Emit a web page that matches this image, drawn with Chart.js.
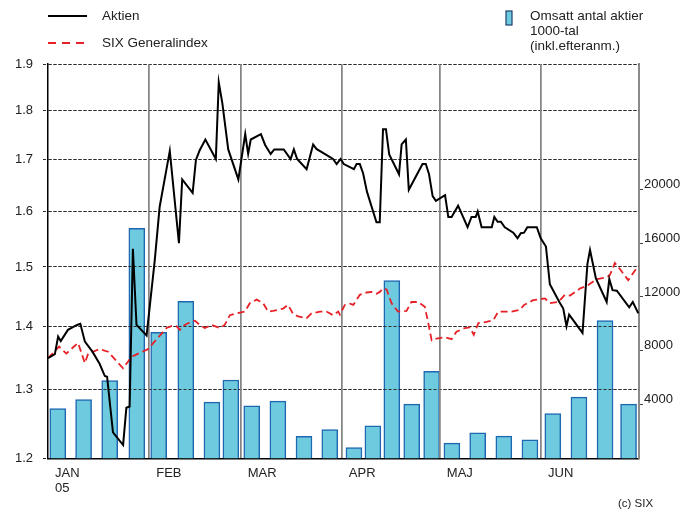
<!DOCTYPE html>
<html>
<head>
<meta charset="utf-8">
<script src="https://cdn.jsdelivr.net/npm/chart.js@4"></script>
<style>
    html, body { margin: 0; padding: 0; background: #fff; }
    #wrap { width: 695px; height: 514px; }
</style>
</head>
<body>
<div id="wrap"><canvas id="chart" width="695" height="514"></canvas></div>
<script>
// x values are days since 1 Jan 2005
const monthStarts = [0, 31, 59, 90, 120, 151, 181];
const monthLabels = [["JAN", "05"], "FEB", "MAR", "APR", "MAJ", "JUN", ""];
const leftTicks = [1.2, 1.3, 1.4, 1.5, 1.6, 1.7, 1.8, 1.9];
const rightTicks = [4000, 8000, 12000, 16000, 20000];

const aktienDays = [
    0, 2.1, 3.1, 3.9, 6.1, 8.9, 9.9, 11.3, 13.6, 15.8,
    17.4, 18.1, 19.9, 23.0, 24.0, 25.0, 26.0, 27.1, 30.2, 32.7,
    34.2, 37.3, 40.1, 41.1, 44.3, 45.3, 46.5, 48.2, 51.4, 52.3,
    53.4, 55.2, 58.3, 60.4, 61.3, 62.1, 65.2, 66.5, 68.2, 69.3,
    72.2, 74.3, 75.3, 76.3, 79.2, 81.2, 82.2, 87.3, 88.4, 89.6,
    90.6, 93.7, 94.5, 95.5, 96.5, 97.7, 100.6, 101.6, 102.6, 103.5,
    104.5, 107.5, 108.3, 109.6, 110.5, 114.7, 115.7, 116.7, 117.8, 118.8,
    121.6, 122.6, 123.6, 125.6, 128.5, 129.7, 131.0, 131.6, 132.8, 135.9,
    136.7, 137.7, 138.7, 139.9, 142.5, 143.8, 144.8, 145.8, 146.8, 149.7,
    150.9, 152.5, 153.7, 156.6, 157.8, 158.8, 159.6, 163.7, 165.2, 166.0,
    167.8, 171.1, 171.9, 172.9, 174.2, 178.0, 179.1, 180.8,
];
const aktienValues = [
    1.349, 1.355, 1.383, 1.376, 1.394, 1.402, 1.404, 1.375, 1.359, 1.340,
    1.321, 1.320, 1.237, 1.219, 1.273, 1.275, 1.532, 1.402, 1.385, 1.512,
    1.609, 1.717, 1.542, 1.661, 1.635, 1.699, 1.719, 1.740, 1.701, 1.860,
    1.815, 1.720, 1.661, 1.751, 1.711, 1.740, 1.751, 1.729, 1.711, 1.720,
    1.720, 1.701, 1.720, 1.701, 1.681, 1.730, 1.721, 1.701, 1.691, 1.701,
    1.691, 1.681, 1.691, 1.691, 1.673, 1.637, 1.580, 1.580, 1.761, 1.761,
    1.710, 1.671, 1.730, 1.740, 1.641, 1.691, 1.691, 1.671, 1.629, 1.620,
    1.631, 1.590, 1.590, 1.611, 1.571, 1.590, 1.590, 1.600, 1.571, 1.571,
    1.590, 1.581, 1.581, 1.571, 1.561, 1.551, 1.560, 1.561, 1.571, 1.571,
    1.551, 1.536, 1.470, 1.440, 1.429, 1.400, 1.419, 1.389, 1.505, 1.530,
    1.480, 1.440, 1.479, 1.460, 1.459, 1.431, 1.440, 1.421,
];

const sixDays = [
    0, 3.4, 5.6, 9.2, 11.3, 12.3, 15.8, 18.4, 23.0, 25.6,
    30.6, 34.8, 36.3, 37.8, 39.3, 40.4, 41.2, 43.4, 45.0, 46.5,
    48.0, 50.1, 52.6, 54.1, 55.7, 57.7, 60.3, 61.8, 63.9, 65.9,
    67.4, 68.9, 72.0, 73.5, 75.1, 76.6, 79.2, 80.7, 83.3, 85.3,
    87.3, 88.9, 89.4, 90.9, 92.5, 93.5, 95.5, 97.6, 99.1, 100.6,
    101.6, 102.6, 103.7, 105.2, 107.2, 109.8, 111.3, 113.4, 115.4, 116.4,
    117.5, 119.0, 121.6, 123.6, 125.1, 127.7, 129.2, 130.4, 131.8, 134.3,
    136.4, 137.9, 142.0, 144.5, 145.8, 148.6, 152.2, 153.7, 156.3, 158.3,
    159.9, 163.0, 165.0, 168.1, 171.1, 172.1, 173.6, 175.2, 177.7, 180.8,
];
const sixValues = [
    1.349, 1.367, 1.356, 1.373, 1.341, 1.356, 1.363, 1.359, 1.333, 1.351,
    1.363, 1.388, 1.397, 1.400, 1.400, 1.394, 1.400, 1.406, 1.409, 1.402,
    1.397, 1.402, 1.397, 1.402, 1.418, 1.421, 1.424, 1.438, 1.444, 1.438,
    1.424, 1.425, 1.429, 1.435, 1.420, 1.416, 1.413, 1.421, 1.424, 1.424,
    1.418, 1.424, 1.419, 1.435, 1.437, 1.435, 1.452, 1.456, 1.457, 1.454,
    1.457, 1.463, 1.461, 1.438, 1.424, 1.425, 1.440, 1.440, 1.432, 1.407,
    1.377, 1.380, 1.382, 1.379, 1.391, 1.397, 1.398, 1.386, 1.405, 1.407,
    1.410, 1.424, 1.424, 1.427, 1.435, 1.443, 1.446, 1.438, 1.440, 1.452,
    1.451, 1.463, 1.467, 1.479, 1.482, 1.486, 1.507, 1.496, 1.477, 1.502,
];

const volumeDays = [
    3.0, 10.9, 18.9, 27.2, 33.9, 42.2, 50.2, 56.0, 62.4, 70.4,
    78.4, 86.3, 93.7, 99.5, 105.3, 111.4, 117.5, 123.7, 131.6, 139.6,
    147.6, 154.6, 162.6, 170.6, 177.8,
];
const volumeValues = [
    3700, 4370, 5780, 17090, 9380, 11680, 4190, 5830, 3920, 4260,
    1640, 2140, 820, 2430, 13220, 4040, 6480, 1140, 1910, 1660,
    1390, 3330, 4560, 10250, 4040,
];

const FONT = "'Liberation Sans', Arial, sans-serif";
const TEXT = "#222";
const RED = "#e62128";
const BAR_FILL = "#6dcadf";
const BAR_EDGE = "#1f67b1";

const toPoints = (xs, ys) => xs.map((x, i) => ({ x, y: ys[i] }));

// grid lines lie on top of the bars in the original, so redraw them after the bars
const gridOverBars = {
    id: "gridOverBars",
    afterDatasetDraw(chart, args) {
        if (args.index !== 2) return;
        chart.scales.y.drawGrid(chart.chartArea);
        chart.scales.x.drawGrid(chart.chartArea);
    },
};

const legendAndCredit = {
    id: "legendAndCredit",
    afterDraw(chart) {
        const ctx = chart.ctx;
        ctx.save();
        ctx.lineWidth = 2;
        ctx.strokeStyle = "#000";
        ctx.beginPath();
        ctx.moveTo(48, 16);
        ctx.lineTo(87, 16);
        ctx.stroke();
        ctx.strokeStyle = RED;
        ctx.setLineDash([8, 6]);
        ctx.beginPath();
        ctx.moveTo(48, 43);
        ctx.lineTo(87, 43);
        ctx.stroke();
        ctx.setLineDash([]);

        ctx.fillStyle = BAR_FILL;
        ctx.fillRect(506, 11, 6, 14);
        ctx.lineWidth = 1.2;
        ctx.strokeStyle = "#1b3f6e";
        ctx.strokeRect(506, 11, 6, 14);

        ctx.fillStyle = TEXT;
        ctx.font = "13.5px " + FONT;
        ctx.textBaseline = "middle";
        ctx.textAlign = "left";
        ctx.fillText("Aktien", 102, 16);
        ctx.fillText("SIX Generalindex", 102, 43);
        ctx.fillText("Omsatt antal aktier", 530, 16);
        ctx.fillText("1000-tal", 530, 31);
        ctx.fillText("(inkl.efteranm.)", 530, 46);
        ctx.font = "11.5px " + FONT;
        ctx.fillText("(c) SIX", 618, 504);
        ctx.restore();
    },
};

new Chart(document.getElementById("chart"), {
    type: "bar",
    data: {
        datasets: [
            {
                type: "line",
                label: "Aktien",
                data: toPoints(aktienDays, aktienValues),
                yAxisID: "y",
                borderColor: "#000",
                borderWidth: 2,
                pointRadius: 0,
                tension: 0,
                order: 1,
            },
            {
                type: "line",
                label: "SIX Generalindex",
                data: toPoints(sixDays, sixValues),
                yAxisID: "y",
                borderColor: RED,
                borderWidth: 1.8,
                borderDash: [7, 4],
                pointRadius: 0,
                tension: 0,
                order: 2,
            },
            {
                type: "bar",
                label: "Omsatt antal aktier",
                data: toPoints(volumeDays, volumeValues),
                yAxisID: "y1",
                backgroundColor: BAR_FILL,
                borderColor: BAR_EDGE,
                borderWidth: 1.5,
                borderSkipped: "bottom",
                barThickness: 16,
                order: 3,
            },
        ],
    },
    options: {
        responsive: false,
        animation: false,
        layout: { padding: { top: 64, left: 0, right: 0, bottom: 0 } },
        plugins: {
            legend: { display: false },
            tooltip: { enabled: false },
        },
        scales: {
            x: {
                type: "linear",
                min: 0,
                max: 181,
                offset: false,
                afterBuildTicks(scale) {
                    scale.ticks = monthStarts.map((value) => ({ value }));
                },
                afterFit(scale) {
                    scale.height = 55.5;
                },
                ticks: {
                    autoSkip: false,
                    maxRotation: 0,
                    align: "start",
                    labelOffset: 7,
                    padding: 7,
                    color: TEXT,
                    font: { family: FONT, size: 13 },
                    callback: (value, index) => monthLabels[index],
                },
                grid: {
                    offset: false,
                    drawTicks: false,
                    lineWidth: 1.5,
                    color: (ctx) =>
                        ctx.index === 0 || ctx.index === monthStarts.length - 1
                            ? "rgba(0,0,0,0)"
                            : "#858585",
                },
                border: { color: "#000", width: 1.5 },
            },
            y: {
                type: "logarithmic",
                position: "left",
                min: 1.2,
                max: 1.9,
                afterBuildTicks(scale) {
                    scale.ticks = leftTicks.map((value) => ({ value }));
                },
                afterFit(scale) {
                    scale.width = 48;
                },
                ticks: {
                    padding: 10,
                    color: TEXT,
                    font: { family: FONT, size: 13 },
                    callback: (value) => Number(value).toFixed(1),
                },
                grid: {
                    color: (ctx) => (ctx.index === 0 ? "rgba(0,0,0,0)" : "#2a2a2a"),
                    lineWidth: 1,
                    tickLength: 5,
                    tickColor: "#2a2a2a",
                    tickBorderDash: [3, 2],
                },
                border: { color: "#000", width: 1.5, dash: [3, 2] },
            },
            y1: {
                type: "linear",
                position: "right",
                min: 0,
                max: 29300,
                afterBuildTicks(scale) {
                    scale.ticks = rightTicks.map((value) => ({ value }));
                },
                afterFit(scale) {
                    scale.width = 56;
                },
                ticks: {
                    padding: 1,
                    labelOffset: -5,
                    color: TEXT,
                    font: { family: FONT, size: 13 },
                    callback: (value) => String(value),
                },
                grid: {
                    drawOnChartArea: false,
                    tickLength: 4,
                    tickColor: "#444",
                },
                border: { color: "#8a8a8a", width: 2 },
            },
        },
    },
    plugins: [gridOverBars, legendAndCredit],
});
</script>
</body>
</html>
